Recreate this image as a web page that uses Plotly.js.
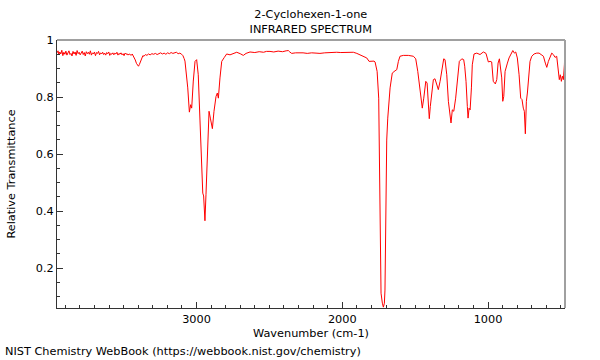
<!DOCTYPE html>
<html>
<head>
<meta charset="utf-8">
<script src="https://cdn.plot.ly/plotly-3.0.1.min.js"></script>
<style>html,body{margin:0;padding:0;background:#fff}#chart{width:600px;height:360px}</style>
</head>
<body>
<div id="chart"></div>
<script>
// Wavenumber (cm-1)
var wavenumber = [
3957,3950,3944,3938,3931,3924,3917,3910,3903,3896,3889,3882,3875,3868,3861,3854,3847,3840,3833,3826,
3819,3812,3805,3798,3791,3784,3777,3770,3763,3756,3749,3742,3735,3728,3721,3714,3707,3700,3693,3686,
3679,3672,3665,3658,3651,3644,3637,3630,3623,3616,3609,3602,3595,3588,3581,3574,3567,3560,3553,3546,
3539,3532,3525,3518,3511,3504,3497,3490,3483,3476,3469,3462,3455,3448,3441,3434,3427,3420,3412,3404,
3398,3392,3384,3376,3368,3360,3350,3340,3330,3318,3306,3294,3282,3270,3258,3246,3234,3222,3210,3198,
3186,3174,3162,3150,3138,3126,3114,3102,3093,3085,3079,3060,3049,3040,3033,3022,3010,2999,2988,2976,
2964,2957,2951,2942,2935,2926,2914,2905,2891,2880,2866,2857,2850,2839,2827,2809,2793,2770,2736,2724,
2700,2679,2660,2633,2600,2570,2540,2520,2496,2470,2440,2410,2385,2370,2360,2347,2320,2290,2269,2240,
2210,2180,2153,2120,2090,2060,2038,2010,1980,1950,1924,1900,1878,1855,1844,1832,1816,1794,1782,1775,
1770,1761,1750,1746,1734,1725,1718,1711,1707,1695,1688,1672,1657,1638,1626,1615,1604,1581,1547,1512,
1496,1482,1466,1451,1441,1427,1418,1409,1403,1396,1386,1375,1364,1352,1341,1329,1318,1304,1295,1283,
1272,1261,1254,1245,1235,1222,1208,1197,1180,1167,1160,1151,1142,1137,1130,1123,1114,1108,1096,1077,
1055,1032,1014,998,986,975,964,950,940,931,922,913,906,899,892,883,876,867,856,842,
830,819,810,799,787,776,767,758,751,744,737,730,721,712,700,684,666,650,636,620,
607,597,586,575,563,552,540,529,518,511,504,497,490,483,476,472
];
// Relative transmittance at each wavenumber
var transmittance = [
0.955,0.962,0.948,0.958,0.951,0.964,0.945,0.957,0.950,0.961,0.947,0.956,0.962,0.949,0.953,0.944,0.960,0.951,0.958,0.946,
0.963,0.952,0.957,0.948,0.955,0.961,0.949,0.956,0.944,0.959,0.952,0.957,0.950,0.962,0.947,0.955,0.951,0.958,0.945,0.956,
0.953,0.960,0.948,0.955,0.951,0.957,0.949,0.954,0.947,0.956,0.952,0.958,0.946,0.953,0.950,0.955,0.948,0.954,0.951,0.957,
0.947,0.953,0.950,0.955,0.948,0.952,0.945,0.954,0.950,0.952,0.947,0.951,0.949,0.946,0.951,0.945,0.940,0.930,0.918,0.910,
0.908,0.914,0.925,0.937,0.945,0.943,0.949,0.946,0.951,0.948,0.952,0.950,0.953,0.949,0.952,0.955,0.951,0.954,0.950,0.955,
0.952,0.956,0.953,0.955,0.957,0.952,0.954,0.950,0.945,0.935,0.926,0.832,0.747,0.773,0.761,0.856,0.925,0.931,0.878,0.716,
0.540,0.463,0.453,0.366,0.457,0.598,0.750,0.726,0.689,0.750,0.802,0.814,0.796,0.867,0.925,0.939,0.951,0.948,0.954,0.957,
0.952,0.946,0.953,0.958,0.956,0.959,0.957,0.960,0.960,0.958,0.961,0.959,0.962,0.963,0.958,0.953,0.955,0.956,0.955,0.953,
0.955,0.954,0.953,0.955,0.956,0.955,0.957,0.956,0.957,0.958,0.957,0.953,0.948,0.943,0.939,0.937,0.925,0.927,0.926,0.923,
0.913,0.890,0.796,0.649,0.112,0.077,0.063,0.077,0.123,0.649,0.726,0.832,0.884,0.892,0.896,0.925,0.943,0.946,0.946,0.943,
0.934,0.890,0.832,0.761,0.796,0.855,0.849,0.773,0.724,0.767,0.808,0.861,0.864,0.843,0.826,0.855,0.896,0.934,0.931,0.878,
0.785,0.726,0.709,0.755,0.750,0.796,0.878,0.925,0.934,0.931,0.908,0.855,0.767,0.726,0.761,0.755,0.832,0.913,0.951,0.954,
0.949,0.958,0.953,0.923,0.925,0.923,0.855,0.846,0.861,0.919,0.934,0.902,0.867,0.785,0.802,0.890,0.908,0.919,0.937,0.954,
0.963,0.954,0.958,0.937,0.878,0.796,0.791,0.761,0.750,0.671,0.785,0.814,0.878,0.925,0.943,0.951,0.954,0.954,0.949,0.943,
0.919,0.904,0.925,0.937,0.954,0.949,0.939,0.943,0.902,0.861,0.878,0.855,0.873,0.861,0.913,0.972
];
var xTickVals = [1000, 2000, 3000];
var xTickText = ['1000', '2000', '3000'];
var yTickVals = [0.2, 0.4, 0.6, 0.8, 1];
var yTickText = ['0.2', '0.4', '0.6', '0.8', '1'];

var FONT = 'DejaVu Sans, sans-serif';
var FS = 11.3;
var trace = {
  x: wavenumber, y: transmittance, type: 'scatter', mode: 'lines',
  line: {color: 'rgb(255,0,0)', width: 1}, hoverinfo: 'none', showlegend: false
};
var layout = {
  width: 600, height: 360,
  margin: {l: 57, r: 35, t: 40, b: 52},
  paper_bgcolor: '#fff', plot_bgcolor: '#fff',
  font: {family: FONT, size: FS, color: '#000'},
  title: {text: '2-Cyclohexen-1-one<br>INFRARED SPECTRUM', font: {family: FONT, size: FS, color: '#000'},
          x: 0.518, xanchor: 'center', y: 0.949, yanchor: 'top', yref: 'container'},
  xaxis: {
    range: [3957, 472], autorange: false,
    tickvals: xTickVals, ticktext: xTickText,
    ticks: 'inside', ticklen: 6, tickwidth: 1, tickcolor: '#333',
    minor: {dtick: 100, tick0: 0, ticks: 'inside', ticklen: 3, tickwidth: 1, tickcolor: '#333'},
    showline: true, linecolor: '#333', linewidth: 1, mirror: false,
    showgrid: false, zeroline: false,
    tickfont: {family: FONT, size: FS, color: '#000'},
    title: {text: 'Wavenumber (cm-1)', font: {family: FONT, size: FS, color: '#000'}, standoff: 4}
  },
  yaxis: {
    range: [0.06, 1.0], autorange: false,
    tickvals: yTickVals, ticktext: yTickText,
    ticks: 'inside', ticklen: 6, tickwidth: 1, tickcolor: '#333',
    minor: {dtick: 0.05, tick0: 0, ticks: 'inside', ticklen: 3, tickwidth: 1, tickcolor: '#333'},
    showline: true, linecolor: '#333', linewidth: 1, mirror: false,
    showgrid: false, zeroline: false,
    tickfont: {family: FONT, size: FS, color: '#000'},
    title: {text: 'Relative Transmittance', font: {family: FONT, size: FS, color: '#000'}, standoff: 17}
  },
  shapes: [
    {type: 'line', xref: 'paper', yref: 'paper', x0: 0, x1: 1, y0: 1, y1: 1, line: {color: '#a0a0a0', width: 2}},
    {type: 'line', xref: 'paper', yref: 'paper', x0: 1, x1: 1, y0: 0, y1: 1, line: {color: '#a0a0a0', width: 2}}
  ],
  annotations: [
    {text: 'NIST Chemistry WebBook (https://webbook.nist.gov/chemistry)', xref: 'paper', yref: 'paper',
     x: -0.106, y: -0.164, xanchor: 'left', yanchor: 'middle', showarrow: false,
     font: {family: FONT, size: FS, color: '#000'}}
  ]
};
Plotly.newPlot('chart', [trace], layout, {staticPlot: true, displayModeBar: false});
</script>
</body>
</html>
